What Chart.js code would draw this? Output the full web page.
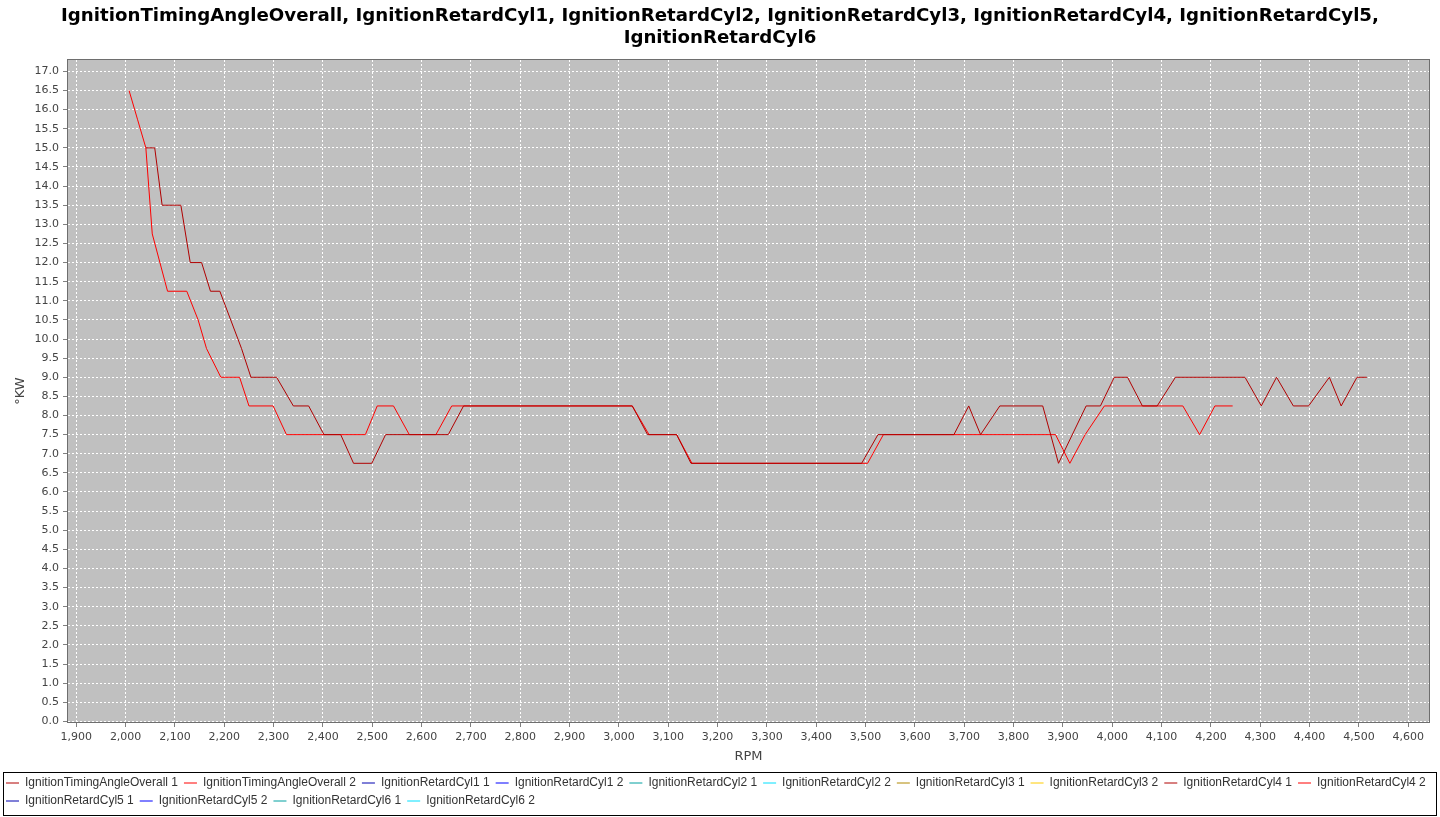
<!DOCTYPE html>
<html>
<head>
<meta charset="utf-8">
<title>Ignition timing</title>
<script src="https://cdn.jsdelivr.net/npm/chart.js@4.4.1/dist/chart.umd.min.js"></script>
<style>
  html, body { margin: 0; padding: 0; background: #fff; }
  #wrap { width: 1440px; height: 817px; }
</style>
</head>
<body>
<div id="wrap"><canvas id="timingChart"></canvas></div>
<script>
// Legend entries (two logs per channel)
const seriesNames = [
  'IgnitionTimingAngleOverall 1', 'IgnitionTimingAngleOverall 2',
  'IgnitionRetardCyl1 1', 'IgnitionRetardCyl1 2',
  'IgnitionRetardCyl2 1', 'IgnitionRetardCyl2 2',
  'IgnitionRetardCyl3 1', 'IgnitionRetardCyl3 2',
  'IgnitionRetardCyl4 1', 'IgnitionRetardCyl4 2',
  'IgnitionRetardCyl5 1', 'IgnitionRetardCyl5 2',
  'IgnitionRetardCyl6 1', 'IgnitionRetardCyl6 2'
];
const seriesColors = [
  '#b00000', '#ff0000', '#0000b0', '#0000ff', '#00a0a0', '#00e0ff', '#b08800',
  '#ffcc00', '#b00000', '#ff0000', '#0000b0', '#0000ff', '#00a0a0', '#00e0ff'
];

// log 1 - overall timing angle
const rpmLog1 = [2041, 2059, 2074, 2112, 2131, 2154, 2172, 2191, 2235, 2254,
  2306, 2340, 2371, 2402, 2436, 2462, 2499, 2527, 2654, 2685,
  3027, 3058, 3117, 3146, 3492, 3525, 3679, 3709, 3733, 3772,
  3859, 3891, 3947, 3976, 4004, 4031, 4061, 4091, 4128, 4269,
  4302, 4333, 4367, 4398, 4440, 4464, 4496, 4516];
const angleLog1 = [15.0, 15.0, 13.5, 13.5, 12.0, 12.0, 11.25, 11.25, 9.75, 9.0,
  9.0, 8.25, 8.25, 7.5, 7.5, 6.75, 6.75, 7.5, 7.5, 8.25,
  8.25, 7.5, 7.5, 6.75, 6.75, 7.5, 7.5, 8.25, 7.5, 8.25,
  8.25, 6.75, 8.25, 8.25, 9.0, 9.0, 8.25, 8.25, 9.0, 9.0,
  8.25, 9.0, 8.25, 8.25, 9.0, 8.25, 9.0, 9.0];

// log 2 - overall timing angle
const rpmLog2 = [2007, 2024, 2041, 2054, 2085, 2124, 2147, 2164, 2193, 2231,
  2250, 2299, 2326, 2486, 2510, 2543, 2575, 2629, 2661, 3027,
  3061, 3117, 3148, 3504, 3536, 3885, 3914, 3945, 3984, 4143,
  4177, 4208, 4244];
const angleLog2 = [16.5, 15.75, 15.0, 12.75, 11.25, 11.25, 10.5, 9.75, 9.0, 9.0,
  8.25, 8.25, 7.5, 7.5, 8.25, 8.25, 7.5, 7.5, 8.25, 8.25,
  7.5, 7.5, 6.75, 6.75, 7.5, 7.5, 6.75, 7.5, 8.25, 8.25,
  7.5, 8.25, 8.25];

const xTicks = [1900, 2000, 2100, 2200, 2300, 2400, 2500, 2600, 2700, 2800,
  2900, 3000, 3100, 3200, 3300, 3400, 3500, 3600, 3700, 3800,
  3900, 4000, 4100, 4200, 4300, 4400, 4500, 4600];
const yTicks = [0.0, 0.5, 1.0, 1.5, 2.0, 2.5, 3.0, 3.5, 4.0, 4.5, 5.0, 5.5,
  6.0, 6.5, 7.0, 7.5, 8.0, 8.5, 9.0, 9.5, 10.0, 10.5, 11.0, 11.5,
  12.0, 12.5, 13.0, 13.5, 14.0, 14.5, 15.0, 15.5, 16.0, 16.5, 17.0];

const titleLines = [
  'IgnitionTimingAngleOverall, IgnitionRetardCyl1, IgnitionRetardCyl2, IgnitionRetardCyl3, IgnitionRetardCyl4, IgnitionRetardCyl5,',
  'IgnitionRetardCyl6'
];

// pair up the rpm and angle arrays
function toPoints(xs, ys) {
  return xs.map((x, i) => ({ x: x, y: ys[i] }));
}

const datasets = seriesNames.map((name, i) => {
  let pts = [];
  if (i === 0) pts = toPoints(rpmLog1, angleLog1);
  if (i === 1) pts = toPoints(rpmLog2, angleLog2);
  return {
    label: name,
    data: pts,
    yAxisID: 'y',
    borderColor: seriesColors[i],
    backgroundColor: seriesColors[i],
    borderWidth: 1,
    pointRadius: 0,
    tension: 0,
    fill: false
  };
});

// grey plot background + outline, box around the legend
const plotFrame = {
  id: 'plotFrame',
  beforeDraw(chart) {
    const { ctx, chartArea: a } = chart;
    ctx.save();
    ctx.fillStyle = '#c0c0c0';
    ctx.fillRect(a.left, a.top, a.right - a.left, a.bottom - a.top);
    ctx.restore();
  },
  afterDraw(chart) {
    const { ctx, chartArea: a, legend } = chart;
    ctx.save();
    ctx.strokeStyle = '#6e6e6e';
    ctx.lineWidth = 1;
    ctx.strokeRect(a.left - 0.5, a.top - 0.5, a.right - a.left + 1, a.bottom - a.top + 1);
    ctx.strokeStyle = '#000';
    ctx.strokeRect(3.5, legend.top + 1.5, chart.width - 7, legend.height - 3);
    ctx.restore();
  }
};

const tickFont = { family: 'DejaVu Sans', size: 11 };
const axisTitleFont = { family: 'DejaVu Sans', size: 13 };

const ctx = document.getElementById('timingChart');

new Chart(ctx, {
  type: 'line',
  data: { datasets: datasets },
  options: {
    responsive: true,
    maintainAspectRatio: false,
    devicePixelRatio: 1,
    animation: false,
    layout: { padding: 0 },
    plugins: {
      title: {
        display: true,
        text: titleLines,
        color: '#000',
        font: { family: 'DejaVu Sans', size: 18.2, weight: 'bold', lineHeight: '22px' },
        padding: { top: 5, bottom: 11 }
      },
      legend: {
        position: 'bottom',
        align: 'start',
        labels: {
          usePointStyle: true,
          pointStyle: 'line',
          pointStyleWidth: 13,
          padding: 6,
          color: '#333',
          font: { family: 'Liberation Sans', size: 12 }
        }
      },
      tooltip: { enabled: false }
    },
    scales: {
      x: {
        type: 'linear',
        min: 1883.2,
        max: 4642,
        afterBuildTicks: (scale) => { scale.ticks = xTicks.map(v => ({ value: v })); },
        afterFit: (scale) => { scale.height = 49; },
        ticks: {
          color: '#444',
          font: tickFont,
          padding: 4,
          maxRotation: 0,
          autoSkip: false,
          callback: (v) => v.toLocaleString('en-US')
        },
        grid: {
          color: '#ffffff',
          tickColor: '#808080',
          tickLength: 5,
          tickBorderDash: []
        },
        border: { display: false, dash: [2, 2] },
        title: {
          display: true,
          text: 'RPM',
          color: '#444',
          font: axisTitleFont,
          padding: { top: 2, bottom: 7 }
        }
      },
      y: {
        type: 'linear',
        position: 'left',
        min: -0.016,
        max: 17.298,
        afterBuildTicks: (scale) => { scale.ticks = yTicks.map(v => ({ value: v })); },
        afterFit: (scale) => { scale.width = 68; },
        ticks: {
          color: '#444',
          font: tickFont,
          padding: 4,
          autoSkip: false,
          callback: (v) => v.toFixed(1)
        },
        grid: {
          color: '#ffffff',
          tickColor: '#808080',
          tickLength: 5,
          tickBorderDash: []
        },
        border: { display: false, dash: [2, 2] },
        title: {
          display: true,
          text: '°KW',
          color: '#444',
          font: axisTitleFont,
          padding: { top: 13, bottom: 0 }
        }
      },
      // empty right-hand strip so the plot stops short of the edge
      yRight: {
        type: 'linear',
        position: 'right',
        afterFit: (scale) => { scale.width = 11; },
        ticks: { display: false },
        grid: { display: false, drawTicks: false },
        border: { display: false }
      }
    }
  },
  plugins: [plotFrame]
});
</script>
</body>
</html>
